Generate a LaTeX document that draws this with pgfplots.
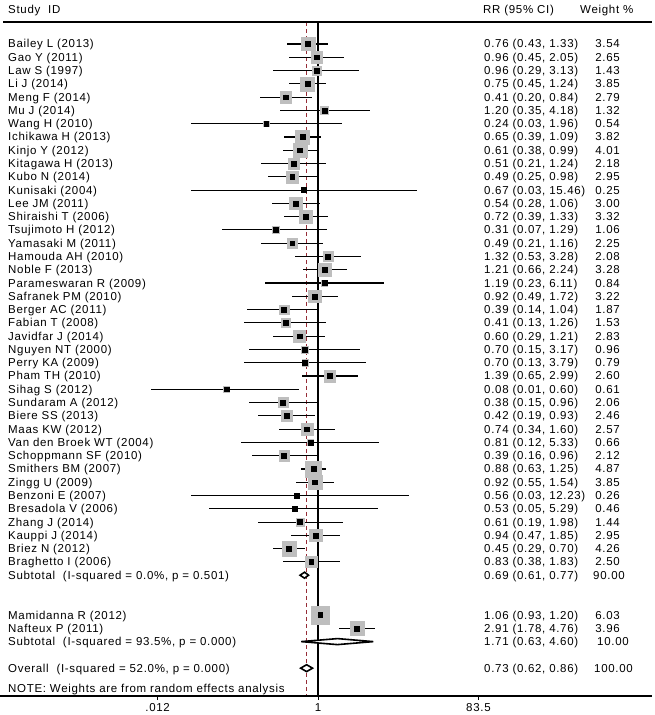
\documentclass[border=0pt]{standalone}
\usepackage{pgfplots}
\pgfplotsset{compat=1.18}
\usepackage{pgfplotstable}
\usepackage{fontspec}
\setmainfont{Liberation Sans}[LetterSpace=6]

\definecolor{boxgray}{RGB}{190,190,190}
\definecolor{refred}{RGB}{150,45,55}

% r = row (top to bottom), RR with 95% CI, weight %
\pgfplotstableread{
r est lo hi w
1 0.76 0.43 1.33 3.54
2 0.96 0.45 2.05 2.65
3 0.96 0.29 3.13 1.43
4 0.75 0.45 1.24 3.85
5 0.41 0.20 0.84 2.79
6 1.20 0.35 4.18 1.32
7 0.24 0.03 1.96 0.54
8 0.65 0.39 1.09 3.82
9 0.61 0.38 0.99 4.01
10 0.51 0.21 1.24 2.18
11 0.49 0.25 0.98 2.95
12 0.67 0.03 15.46 0.25
13 0.54 0.28 1.06 3.00
14 0.72 0.39 1.33 3.32
15 0.31 0.07 1.29 1.06
16 0.49 0.21 1.16 2.25
17 1.32 0.53 3.28 2.08
18 1.21 0.66 2.24 3.28
19 1.19 0.23 6.11 0.84
20 0.92 0.49 1.72 3.22
21 0.39 0.14 1.04 1.87
22 0.41 0.13 1.26 1.53
23 0.60 0.29 1.21 2.83
24 0.70 0.15 3.17 0.96
25 0.70 0.13 3.79 0.79
26 1.39 0.65 2.99 2.60
27 0.08 0.01 0.60 0.61
28 0.38 0.15 0.96 2.06
29 0.42 0.19 0.93 2.46
30 0.74 0.34 1.60 2.57
31 0.81 0.12 5.33 0.66
32 0.39 0.16 0.96 2.12
33 0.88 0.63 1.25 4.87
34 0.92 0.55 1.54 3.85
35 0.56 0.03 12.23 0.26
36 0.53 0.05 5.29 0.46
37 0.61 0.19 1.98 1.44
38 0.94 0.47 1.85 2.95
39 0.45 0.29 0.70 4.26
40 0.83 0.38 1.83 2.50
44 1.06 0.93 1.20 6.03
45 2.91 1.78 4.76 3.96
}\studies

\begin{document}
\begin{tikzpicture}[lbl/.style={inner sep=0pt, font=\fontsize{11.5bp}{13bp}\selectfont}]
\useasboundingbox (0,0) rectangle (655bp,715bp);
\begin{axis}[
    at={(0,0)}, anchor=south west,
    scale only axis, width=655bp, height=715bp,
    xmode=log, xmin=1.554e-4, xmax=1.0862e4,
    ymin=-2.313, ymax=51.527, y dir=reverse,
    hide axis, clip=false,
    ]

    % reference lines: no effect, overall estimate
    \addplot[black, line width=1.2bp] coordinates {(1,-0.657) (1,50.1)};
    \addplot[refred, line width=1.2bp, dash pattern=on 4bp off 3bp] coordinates {(0.73,-0.657) (0.73,50.1)};

    % weight boxes
    \addplot[only marks, mark=square*, scatter,
        scatter/use mapped color={draw=boxgray, fill=boxgray},
        visualization depends on={3.55*sqrt(\thisrow{w}) \as \msz},
        scatter/@pre marker code/.append style={/tikz/mark size=\msz}]
        table[x=est, y=r] \studies;

    % confidence intervals
    \addplot[only marks, mark=none,
        error bars/.cd, x dir=both, x explicit, error mark=none,
        error bar style={line width=1.1bp, black}]
        table[x=est, y=r,
              x error plus expr=\thisrow{hi}-\thisrow{est},
              x error minus expr=\thisrow{est}-\thisrow{lo}] \studies;

    % point estimates
    \addplot[only marks, mark=square*, mark size=2.4bp, black] table[x=est, y=r] \studies;

    % pooled estimates
    \addplot[draw=black, fill=white, line width=1.6bp] coordinates {(0.61,41) (0.69,40.774) (0.77,41) (0.69,41.226)} -- cycle;
    \addplot[draw=black, fill=white, line width=1.6bp] coordinates {(0.63,46) (1.71,45.774) (4.60,46) (1.71,46.226)} -- cycle;
    \addplot[draw=black, fill=white, line width=1.6bp] coordinates {(0.62,48) (0.73,47.74) (0.86,48) (0.73,48.26)} -- cycle;

    % x tick labels
    \node[lbl, anchor=north] at (axis cs:0.012,50.1) [yshift=-7.5bp] {.012};
    \node[lbl, anchor=north] at (axis cs:1,50.1) [yshift=-7.5bp] {1};
    \node[lbl, anchor=north] at (axis cs:83.5,50.1) [yshift=-7.5bp] {83.5};
\end{axis}

\begin{scope}[shift={(0pt,715bp)}, x=1bp, y=-1bp]
    \draw[line width=1.2bp] (3,22) -- (652,22);
    \draw[line width=1.2bp] (0,696) -- (652,696);
    \draw[line width=1bp] (157.6,696) -- (157.6,700);
    \draw[line width=1bp] (318,696) -- (318,700);
    \draw[line width=1bp] (478.4,696) -- (478.4,700);
    \node[lbl, anchor=base west] at (8,14) {Study\ \ ID};
    \node[lbl, anchor=base west] at (483,14) {RR (95\% CI)};
    \node[lbl, anchor=base west] at (580,14) {Weight \%};

    \foreach \r/\lab/\ci/\wt in {
        1/Bailey L (2013)/{0.76 (0.43, 1.33)}/3.54,
        2/Gao Y (2011)/{0.96 (0.45, 2.05)}/2.65,
        3/Law S (1997)/{0.96 (0.29, 3.13)}/1.43,
        4/Li J (2014)/{0.75 (0.45, 1.24)}/3.85,
        5/Meng F (2014)/{0.41 (0.20, 0.84)}/2.79,
        6/Mu J (2014)/{1.20 (0.35, 4.18)}/1.32,
        7/Wang H (2010)/{0.24 (0.03, 1.96)}/0.54,
        8/Ichikawa H (2013)/{0.65 (0.39, 1.09)}/3.82,
        9/Kinjo Y (2012)/{0.61 (0.38, 0.99)}/4.01,
        10/Kitagawa H (2013)/{0.51 (0.21, 1.24)}/2.18,
        11/Kubo N (2014)/{0.49 (0.25, 0.98)}/2.95,
        12/Kunisaki (2004)/{0.67 (0.03, 15.46)}/0.25,
        13/Lee JM (2011)/{0.54 (0.28, 1.06)}/3.00,
        14/Shiraishi T (2006)/{0.72 (0.39, 1.33)}/3.32,
        15/Tsujimoto H (2012)/{0.31 (0.07, 1.29)}/1.06,
        16/Yamasaki M (2011)/{0.49 (0.21, 1.16)}/2.25,
        17/Hamouda AH (2010)/{1.32 (0.53, 3.28)}/2.08,
        18/Noble F (2013)/{1.21 (0.66, 2.24)}/3.28,
        19/Parameswaran R (2009)/{1.19 (0.23, 6.11)}/0.84,
        20/Safranek PM (2010)/{0.92 (0.49, 1.72)}/3.22,
        21/Berger AC (2011)/{0.39 (0.14, 1.04)}/1.87,
        22/Fabian T (2008)/{0.41 (0.13, 1.26)}/1.53,
        23/Javidfar J (2014)/{0.60 (0.29, 1.21)}/2.83,
        24/Nguyen NT (2000)/{0.70 (0.15, 3.17)}/0.96,
        25/Perry KA (2009)/{0.70 (0.13, 3.79)}/0.79,
        26/Pham TH (2010)/{1.39 (0.65, 2.99)}/2.60,
        27/Sihag S (2012)/{0.08 (0.01, 0.60)}/0.61,
        28/Sundaram A (2012)/{0.38 (0.15, 0.96)}/2.06,
        29/Biere SS (2013)/{0.42 (0.19, 0.93)}/2.46,
        30/Maas KW (2012)/{0.74 (0.34, 1.60)}/2.57,
        31/Van den Broek WT (2004)/{0.81 (0.12, 5.33)}/0.66,
        32/Schoppmann SF (2010)/{0.39 (0.16, 0.96)}/2.12,
        33/Smithers BM (2007)/{0.88 (0.63, 1.25)}/4.87,
        34/Zingg U (2009)/{0.92 (0.55, 1.54)}/3.85,
        35/Benzoni E (2007)/{0.56 (0.03, 12.23)}/0.26,
        36/Bresadola V (2006)/{0.53 (0.05, 5.29)}/0.46,
        37/Zhang J (2014)/{0.61 (0.19, 1.98)}/1.44,
        38/Kauppi J (2014)/{0.94 (0.47, 1.85)}/2.95,
        39/Briez N (2012)/{0.45 (0.29, 0.70)}/4.26,
        40/Braghetto I (2006)/{0.83 (0.38, 1.83)}/2.50,
        44/Mamidanna R (2012)/{1.06 (0.93, 1.20)}/6.03,
        45/Nafteux P (2011)/{2.91 (1.78, 4.76)}/3.96}{
        \node[lbl, anchor=base west] at (8,{44+(\r-1)*13.28+4}) {\lab};
        \node[lbl, anchor=base west] at (484,{44+(\r-1)*13.28+4}) {\ci};
        \node[lbl, anchor=base east] at (620,{44+(\r-1)*13.28+4}) {\wt};
    }

    \foreach \r/\lab/\ci/\wt/\wx in {
        41/{Subtotal\ \ (I-squared = 0.0\%, p = 0.501)}/{0.69 (0.61, 0.77)}/90.00/593,
        46/{Subtotal\ \ (I-squared = 93.5\%, p = 0.000)}/{1.71 (0.63, 4.60)}/10.00/597,
        48/{Overall\ \ (I-squared = 52.0\%, p = 0.000)}/{0.73 (0.62, 0.86)}/100.00/594}{
        \node[lbl, anchor=base west] at (8,{44+(\r-1)*13.28+4}) {\lab};
        \node[lbl, anchor=base west] at (484,{44+(\r-1)*13.28+4}) {\ci};
        \node[lbl, anchor=base west] at (\wx,{44+(\r-1)*13.28+4}) {\wt};
    }

    \node[lbl, anchor=base west] at (8,693) {NOTE: Weights are from random effects analysis};
\end{scope}
\end{tikzpicture}
\end{document}
